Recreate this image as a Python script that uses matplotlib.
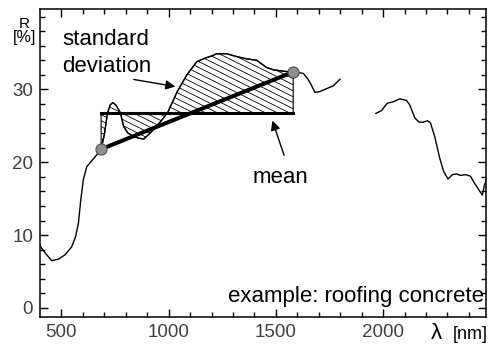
import numpy as np
import matplotlib.pyplot as plt
from matplotlib.collections import LineCollection

plt.rcParams['font.family'] = ['Liberation Sans', 'DejaVu Sans']

# reflectance spectrum, first segment (VIS - 1800 nm)
wl1 = [402, 408, 431, 455, 486, 517, 548, 566, 579, 590, 602, 618, 641, 664, 685,
       700, 715, 728, 740, 755, 775, 790, 810, 835, 860, 885, 920, 960, 995,
       1040, 1085, 1131, 1170, 1201, 1224, 1271, 1318, 1364, 1411, 1457, 1488,
       1535, 1581, 1628, 1650, 1667, 1682, 1705, 1744, 1768, 1799]
r1 = [8.5, 8.2, 7.3, 6.5, 6.7, 7.3, 8.4, 9.8, 11.6, 14.8, 17.6, 19.4, 20.2, 21.0, 21.8,
      23.8, 26.8, 27.9, 28.2, 27.8, 26.8, 24.9, 24.0, 23.6, 23.3, 23.2, 24.2, 25.5, 26.8,
      29.7, 32.0, 33.8, 34.3, 34.6, 34.9, 34.9, 34.5, 34.2, 34.0, 33.0, 32.7,
      32.5, 32.4, 32.2, 31.4, 30.5, 29.6, 29.7, 30.2, 30.5, 31.4]

# second segment (after the water band gap)
wl2 = [1966, 1993, 2019, 2047, 2078, 2109, 2124, 2148, 2168, 2186, 2207, 2221, 2241,
       2264, 2283, 2303, 2323, 2342, 2361, 2385, 2407, 2427, 2447, 2463, 2473, 2480]
r2 = [26.7, 27.1, 28.1, 28.3, 28.7, 28.5, 27.9, 26.1, 25.5, 25.5, 25.7, 25.4, 23.5,
      20.6, 18.7, 17.7, 18.3, 18.4, 18.2, 18.3, 18.1, 17.1, 16.2, 15.5, 16.9, 17.4]

# mean level and the two end points of the interval
anchor_wl = [685, 1581]
anchor_r = [21.8, 32.4]
mean_r = 26.8

fig = plt.figure(figsize=(4.9, 3.51), dpi=100)
ax = fig.add_axes([40 / 490, 1 - 316.7 / 351, 446 / 490, 307.4 / 351])

ax.plot(wl1, r1, color='black', lw=1.0, zorder=3)
ax.plot(wl2, r2, color='black', lw=1.0, zorder=3)

# hatched area between spectrum and mean
wl1a = np.array(wl1)
r1a = np.array(r1)
sel = (wl1a >= anchor_wl[0]) & (wl1a <= anchor_wl[1])
poly = ax.fill_between(wl1a[sel], r1a[sel], mean_r, facecolor='none',
                       edgecolor='black', lw=0.8, zorder=2)

ax.set_xlim(400, 2480)
ax.set_ylim(-1.2, 41)

# custom hatch lines (shallow slope like the original)
px_x = 446 / (2480 - 400)
px_y = 307.4 / (41 + 1.2)
slope = -0.5 * px_x / px_y
step = 6.0 / px_y
segs = []
for b in np.arange(15, 50, step):
    segs.append([(anchor_wl[0], b), (anchor_wl[1], b + slope * (anchor_wl[1] - anchor_wl[0]))])
lc = LineCollection(segs, colors='black', linewidths=0.6, zorder=2)
lc.set_clip_path(poly.get_paths()[0], ax.transData)
ax.add_collection(lc)

ax.plot(anchor_wl, [mean_r, mean_r], color='black', lw=2.2, zorder=4)
ax.plot(anchor_wl, anchor_r, color='black', lw=2.9, zorder=4)
ax.plot(anchor_wl, anchor_r, 'o', ms=8, mfc='#8f8f8f', mec='#505050', mew=0.8, zorder=5)

ax.set_xticks([500, 1000, 1500, 2000])
ax.set_xticks(np.arange(500, 2480, 100), minor=True)
ax.set_yticks([0, 10, 20, 30])
ax.set_yticks(np.arange(0, 41, 2), minor=True)
ax.tick_params(which='both', direction='in', top=True, right=True, width=1,
               labelsize=13.5, labelcolor='#404040')
ax.tick_params(which='major', length=5.5)
ax.tick_params(which='minor', length=3.5)
ax.tick_params(axis='x', pad=5)
ax.tick_params(axis='y', pad=5)
for s in ax.spines.values():
    s.set_linewidth(1.1)

fig.text(24 / 490, 1 - 28.5 / 351, 'R', ha='center', va='baseline', fontsize=11)
fig.text(24.5 / 490, 1 - 42 / 351, '[%]', ha='center', va='baseline', fontsize=11.5)
fig.text(431 / 490, 1 - 339 / 351, 'λ', ha='left', va='baseline', fontsize=16)
fig.text(453 / 490, 1 - 339 / 351, '[nm]', ha='left', va='baseline', fontsize=13)

fig.text(62 / 490, 1 - 45 / 351, 'standard', ha='left', va='baseline', fontsize=16)
fig.text(62 / 490, 1 - 72.5 / 351, 'deviation', ha='left', va='baseline', fontsize=16)
fig.text(253 / 490, 1 - 183 / 351, 'mean', ha='left', va='baseline', fontsize=16)
fig.text(484 / 490, 1 - 302 / 351, 'example: roofing concrete', ha='right',
         va='baseline', fontsize=16)

arrow = dict(arrowstyle='-|>', color='black', lw=1.0, mutation_scale=14)
ax.annotate('', xy=(178 / 490, 1 - 87 / 351), xycoords='figure fraction',
            xytext=(131 / 490, 1 - 79 / 351), textcoords='figure fraction',
            arrowprops=arrow)
ax.annotate('', xy=(271.5 / 490, 1 - 118 / 351), xycoords='figure fraction',
            xytext=(285 / 490, 1 - 158 / 351), textcoords='figure fraction',
            arrowprops=arrow)

fig.savefig('out.png', dpi=100)
